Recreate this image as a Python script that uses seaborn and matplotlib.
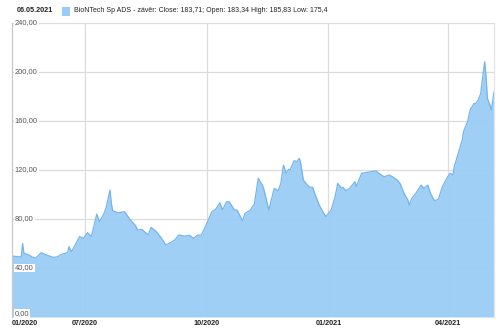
import matplotlib
matplotlib.use("Agg")
import matplotlib.pyplot as plt
import matplotlib.transforms as mtransforms
import seaborn as sns
import pandas as pd

dates = [
    "2020-05-07", "2020-05-14", "2020-05-15", "2020-05-16", "2020-05-20", "2020-05-22",
    "2020-05-25", "2020-05-29", "2020-06-02", "2020-06-07", "2020-06-10", "2020-06-14",
    "2020-06-18", "2020-06-19", "2020-06-21", "2020-06-23", "2020-06-27", "2020-06-30",
    "2020-07-03", "2020-07-06", "2020-07-10", "2020-07-12", "2020-07-15", "2020-07-17",
    "2020-07-20", "2020-07-21", "2020-07-22", "2020-07-26", "2020-07-31", "2020-08-04",
    "2020-08-08", "2020-08-10", "2020-08-13", "2020-08-15", "2020-08-18", "2020-08-20",
    "2020-08-24", "2020-08-28", "2020-08-31", "2020-09-03", "2020-09-07", "2020-09-10",
    "2020-09-14", "2020-09-18", "2020-09-21", "2020-09-24", "2020-09-27", "2020-09-30",
    "2020-10-05", "2020-10-08", "2020-10-11", "2020-10-13", "2020-10-16", "2020-10-18",
    "2020-10-22", "2020-10-24", "2020-10-28", "2020-10-30", "2020-11-03", "2020-11-06",
    "2020-11-09", "2020-11-12", "2020-11-13", "2020-11-17", "2020-11-21", "2020-11-24",
    "2020-11-26", "2020-11-28", "2020-11-30", "2020-12-02", "2020-12-03", "2020-12-06",
    "2020-12-08", "2020-12-10", "2020-12-11", "2020-12-13", "2020-12-16", "2020-12-18",
    "2020-12-20", "2020-12-22", "2020-12-25", "2020-12-27", "2020-12-30", "2021-01-03",
    "2021-01-06", "2021-01-08", "2021-01-11", "2021-01-12", "2021-01-14", "2021-01-17",
    "2021-01-21", "2021-01-22", "2021-01-26", "2021-01-29", "2021-02-02", "2021-02-06",
    "2021-02-08", "2021-02-12", "2021-02-16", "2021-02-19", "2021-02-22", "2021-02-24",
    "2021-02-27", "2021-03-02", "2021-03-03", "2021-03-05", "2021-03-08", "2021-03-12",
    "2021-03-14", "2021-03-17", "2021-03-19", "2021-03-22", "2021-03-25", "2021-03-28",
    "2021-04-01", "2021-04-03", "2021-04-05", "2021-04-06", "2021-04-09", "2021-04-12",
    "2021-04-13", "2021-04-16", "2021-04-18", "2021-04-21", "2021-04-22", "2021-04-24",
    "2021-04-26", "2021-04-27", "2021-04-29", "2021-04-30", "2021-05-01", "2021-05-03",
    "2021-05-04", "2021-05-06",
]
close = [
    49.8, 49.0, 60.0, 52.0, 50.6, 49.0,
    48.0, 52.5, 50.6, 48.7, 49.0, 51.4,
    52.5, 57.4, 53.3, 57.4, 65.6, 64.2,
    68.8, 65.6, 84.0, 77.8, 83.3, 88.7,
    103.7, 92.8, 86.8, 85.0, 86.0, 79.7,
    75.0, 71.0, 71.6, 69.6, 67.0, 73.2,
    69.6, 64.2, 58.8, 60.2, 62.9, 67.0,
    66.0, 66.7, 64.2, 66.7, 67.0, 73.7,
    86.0, 88.2, 93.3, 87.3, 94.1, 94.1,
    87.3, 87.3, 78.6, 84.6, 87.3, 92.2,
    113.2, 107.7, 105.0, 87.3, 105.0, 103.1,
    109.0, 124.0, 117.3, 120.6, 120.0, 127.6,
    126.8, 129.5, 125.5, 111.8, 107.7, 105.9,
    105.9, 99.6, 91.4, 87.3, 81.9, 87.3,
    98.2, 109.1, 105.0, 105.9, 103.1, 105.0,
    110.5, 106.4, 117.3, 117.8, 118.6, 119.2,
    117.3, 114.5, 115.9, 114.0, 111.8, 109.1,
    101.0, 95.5, 91.4, 96.9, 101.0, 107.7,
    105.0, 107.7, 101.0, 94.9, 96.1, 106.4,
    114.5, 117.3, 115.9, 122.7, 133.6, 144.5,
    151.3, 159.4, 169.0, 174.4, 173.9, 177.0,
    182.6, 192.0, 208.4, 196.0, 178.5, 173.0,
    169.0, 183.71,
]
y_ticks = [0, 40, 80, 120, 160, 200, 240]
x_tick_dates = ["2020-05-07", "2020-07-01", "2020-10-01", "2021-01-01", "2021-04-01"]
x_tick_labels = ["01/2020", "07/2020", "10/2020", "01/2021", "04/2021"]
header_date = "06.05.2021"
legend_text = "BioNTech Sp ADS - závěr: Close: 183,71; Open: 183,34 High: 185,83 Low: 175,4"

df = pd.DataFrame({"date": pd.to_datetime(dates), "close": close})

sns.set_theme(style="white")
plt.rcParams["font.family"] = ["Liberation Sans", "DejaVu Sans"]

fill_c = "#99ccf6"
line_c = "#74b4ec"
grid_c = "#dcdcdc"

fig = plt.figure(figsize=(5.0, 3.29), dpi=100)
ax = fig.add_axes([12 / 500, 1 - 317 / 329, (494 - 12) / 500, (317 - 23) / 329])

for yv in y_ticks:
    ax.axhline(yv, color=grid_c, lw=0.9, zorder=0)
xt = pd.to_datetime(x_tick_dates)
for d in xt[1:]:
    ax.axvline(d, color=grid_c, lw=0.9, zorder=0)

ax.fill_between(df["date"], df["close"], 0, color=fill_c, alpha=0.93, lw=0, zorder=1)
sns.lineplot(data=df, x="date", y="close", ax=ax, color=line_c, lw=0.9, zorder=2)

ax.set_xlim(df["date"].iloc[0], df["date"].iloc[-1])
ax.set_ylim(0, 240)
ax.set_xlabel("")
ax.set_ylabel("")
ax.set_yticks([])
ax.set_xticks(xt)
ax.set_xticklabels(x_tick_labels, fontsize=5.2, fontweight="bold", color="#222222")
ax.tick_params(axis="x", length=0, pad=2.2)
labs = ax.get_xticklabels()
labs[0].set_horizontalalignment("left")

for s in ["top", "bottom"]:
    ax.spines[s].set_visible(False)
ax.spines["left"].set_color("#c8c8c8")
ax.spines["left"].set_linewidth(0.9)
ax.spines["right"].set_color("#e4e4e4")
ax.spines["right"].set_linewidth(0.9)

trans = mtransforms.blended_transform_factory(ax.transAxes, ax.transData)
for yv in y_ticks:
    ax.text(0.006, yv, f"{yv},00", transform=trans, fontsize=5.4, color="#555555",
            ha="left", va="bottom" if yv == 0 else "center", zorder=5,
            bbox=dict(boxstyle="square,pad=0.12", fc="white", ec="none"))

fig.text(17 / 500, 1 - 11 / 329, header_date, fontsize=5.2, fontweight="bold",
         color="#222222", ha="left", va="center")
fig.patches.append(plt.Rectangle((62 / 500, 1 - 15.5 / 329), 8 / 500, 8 / 329,
                                 transform=fig.transFigure, fc=fill_c, ec="none"))
fig.text(74 / 500, 1 - 11 / 329, legend_text, fontsize=5.0, color="#222222",
         ha="left", va="center")

fig.savefig("out.png", dpi=100)
